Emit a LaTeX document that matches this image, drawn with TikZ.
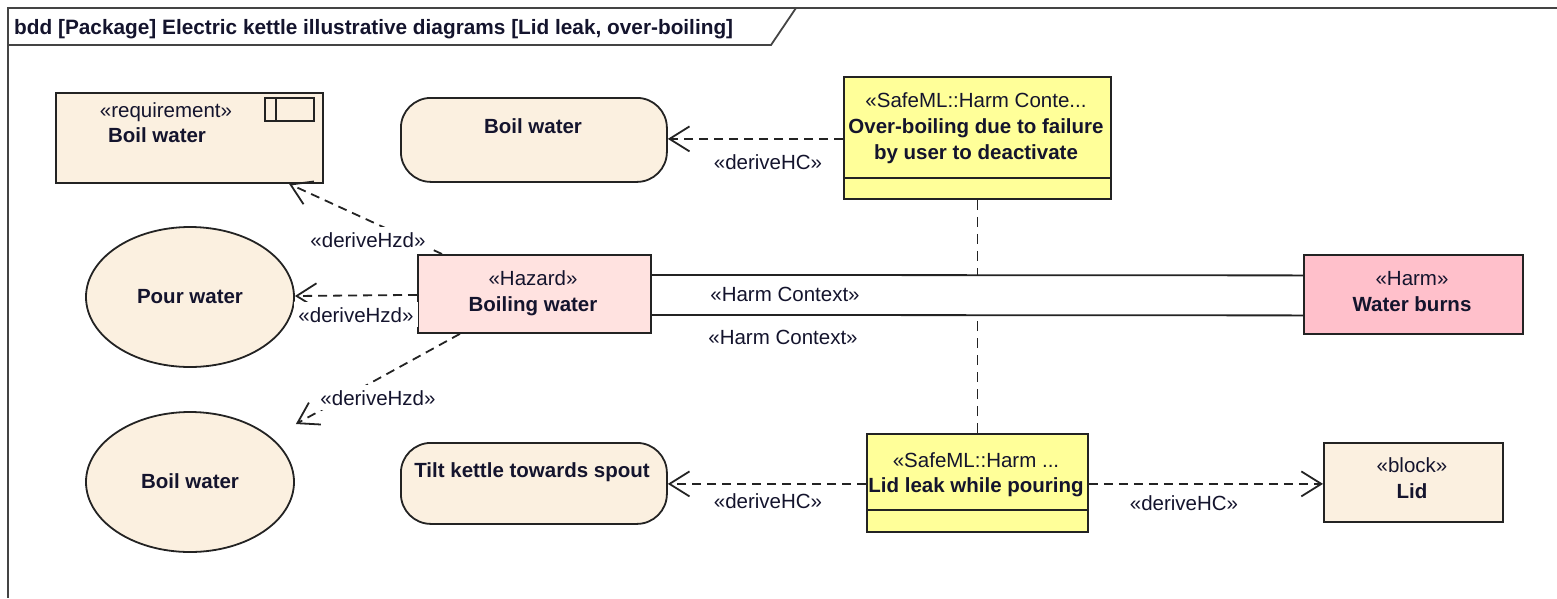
\documentclass[tikz,border=0pt]{standalone}
\usepackage{fontspec}
\setmainfont{Liberation Sans}
\usetikzlibrary{shapes.geometric,arrows.meta,calc}
\definecolor{beige}{RGB}{251,240,224}
\definecolor{yel}{RGB}{255,255,153}
\definecolor{hazfill}{RGB}{255,226,224}
\definecolor{harmfill}{RGB}{255,192,203}
\definecolor{txt}{RGB}{20,20,45}
\definecolor{edge}{RGB}{35,35,35}
\tikzset{
  every node/.style={font=\fontsize{20.5}{26}\selectfont, text=txt},
  box/.style={draw=edge, line width=1.8pt, rectangle, inner sep=0pt, anchor=north west},
  oval/.style={draw=edge, line width=1.8pt, ellipse, fill=beige, inner sep=0pt, minimum width=208pt, minimum height=140pt},
  txtb/.style={anchor=base, inner sep=0pt},
  lbl/.style={anchor=base, fill=white, inner xsep=4pt, inner ysep=5pt},
  dep/.style={draw=edge, line width=1.8pt, dash pattern=on 9pt off 6pt,
    -{Straight Barb[length=20pt,width=25pt,line width=1.8pt]}},
  assoc/.style={draw=edge, line width=1.8pt},
  hclink/.style={draw=edge, line width=1.4pt, dash pattern=on 10pt off 7pt},
}
\begin{document}
\begin{tikzpicture}[x=1pt,y=-1pt]
\useasboundingbox (0,0) rectangle (1557,598);
% frame
\draw[edge!85, line width=1.8pt] (1557,8) -- (8,8) -- (8,598);
\draw[edge!85, line width=1.8pt] (8,45) -- (771,45) -- (796,8);
\node[anchor=base west, inner sep=0pt, font=\fontsize{20.8}{26}\selectfont\bfseries] (title) at (14,34) {bdd [Package] Electric kettle illustrative diagrams [Lid leak, over-boiling]};

% requirement
\node[box, fill=beige, minimum width=267pt, minimum height=90pt] (req) at (55,92) {};
\node[box, minimum width=49pt, minimum height=23pt] (reqIcon) at (264,97) {};
\draw[edge, line width=1.8pt] ($(reqIcon.north west)+(12,0)$) -- ($(reqIcon.south west)+(12,0)$);
\node[txtb] (reqSt) at (166,117) {«requirement»};
\node[txtb] (reqNm) at (157,142) {\bfseries Boil water};

% activity boil water
\node[box, fill=beige, rounded corners=30pt, minimum width=266pt, minimum height=84pt] (act1) at (400,97) {};
\node[txtb] (act1t) at (533,133) {\bfseries Boil water};

% over-boiling harm context
\node[box, fill=yel, minimum width=267pt, minimum height=122pt] (ob) at (843,76) {};
\draw[edge, line width=1.8pt] ($(ob.south west)+(0,-22)$) -- ($(ob.south east)+(0,-22)$);
\node[txtb] (obSt) at (976,107) {«SafeML::Harm Conte...};
\node[txtb] (obN1) at (976,133) {\bfseries Over-boiling due to failure};
\node[txtb] (obN2) at (976,159) {\bfseries by user to deactivate};

% hazard
\node[box, fill=hazfill, minimum width=233pt, minimum height=78pt] (haz) at (417,254) {};
\node[txtb] (hazSt) at (533,285) {«Hazard»};
\node[txtb] (hazNm) at (533,311) {\bfseries Boiling water};

% harm
\node[box, fill=harmfill, minimum width=219pt, minimum height=79pt] (harm) at (1303,254) {};
\node[txtb] (harmSt) at (1412,285) {«Harm»};
\node[txtb] (harmNm) at (1412,311) {\bfseries Water burns};

% use cases
\node[oval] (pour) at (190,297) {};
\node[txtb] (pourt) at (190,303) {\bfseries Pour water};
\node[oval] (boil) at (190,482) {};
\node[txtb] (boilt) at (190,488) {\bfseries Boil water};

% tilt activity
\node[box, fill=beige, rounded corners=30pt, minimum width=266pt, minimum height=81pt] (tilt) at (400,442) {};
\node[txtb] (tiltt) at (532,477) {\bfseries Tilt kettle towards spout};

% lid leak harm context
\node[box, fill=yel, minimum width=221pt, minimum height=98pt] (ll) at (866,433) {};
\draw[edge, line width=1.8pt] ($(ll.south west)+(0,-23)$) -- ($(ll.south east)+(0,-23)$);
\node[txtb] (llSt) at (976,467) {«SafeML::Harm ...};
\node[txtb] (llNm) at (976,492) {\bfseries Lid leak while pouring};

% lid block
\node[box, fill=beige, minimum width=179pt, minimum height=79pt] (lid) at (1323,442) {};
\node[txtb] (lidSt) at (1412,472) {«block»};
\node[txtb] (lidNm) at (1412,498) {\bfseries Lid};

% harm context association
\coordinate (hcA1) at ($(haz.east)+(0,-19)$);
\coordinate (hcA2) at ($(harm.west)+(0,-19)$);
\coordinate (hcB1) at ($(haz.east)+(0,21)$);
\coordinate (hcB2) at ($(harm.west)+(0,21)$);
\draw[assoc] (hcA1) -- (hcA2);
\draw[assoc] (hcB1) -- (hcB2);
\draw[hclink] (ob.south) -- (ob.south |- hcA1);
\draw[hclink] (ll.north) -- (ll.north |- hcB1);

% derive dependencies
\coordinate (obOut) at ($(ob.west)+(0,1)$);
\coordinate (llOutL) at ($(ll.west)+(0,1)$);
\coordinate (llOutR) at ($(ll.east)+(0,1)$);
\draw[dep] (obOut) -- (act1.east |- obOut);
\draw[dep] (llOutL) -- (tilt.east |- llOutL);
\draw[dep] (llOutR) -- (lid.west |- llOutR);
\draw[dep] ($(haz.north west)+(25,0)$) -- ($(req.south west)+(234,0)$);
\draw[dep] ($(haz.west)+(0,1)$) -- ($(pour.east)+(0,-1)$);
\draw[dep] ($(haz.south west)+(43,0)$) -- ($(boil.east)+(1,-58)$);

% labels
\node[lbl] (l1) at (768,169) {«deriveHC»};
\node[lbl] (l2) at (768,508) {«deriveHC»};
\node[lbl] (l3) at (1184,510) {«deriveHC»};
\node[lbl] (l4) at (785,301) {«Harm Context»};
\node[lbl] (l5) at (783,344) {«Harm Context»};
\node[lbl] (l6) at (368,247) {«deriveHzd»};
\node[lbl] (l7) at (356,322) {«deriveHzd»};
\node[lbl] (l8) at (378,405) {«deriveHzd»};
\end{tikzpicture}
\end{document}
